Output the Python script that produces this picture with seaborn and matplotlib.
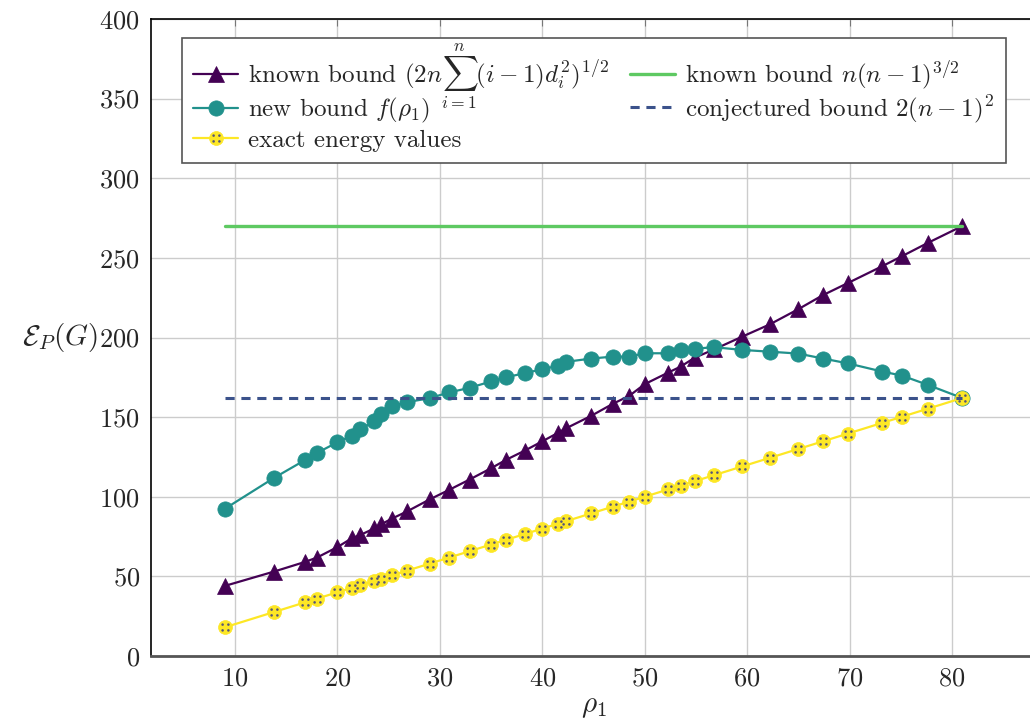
import numpy as np
import pandas as pd
import seaborn as sns
import matplotlib.pyplot as plt
from matplotlib.path import Path
from matplotlib.transforms import Bbox

# spectral radius rho_1 of the graphs (n = 10)
rho1 = [9, 13.8, 16.8, 18, 20, 21.4, 22.2, 23.6, 24.3, 25.3, 26.8, 29, 30.9, 32.9,
        35, 36.5, 38.3, 40, 41.5, 42.3, 44.8, 46.9, 48.5, 50, 52.3, 53.5, 54.9,
        56.8, 59.5, 62.2, 65, 67.4, 69.8, 73.2, 75.1, 77.7, 81]

known_sum_bound = [44, 53, 59, 61.8, 68.4, 73.9, 75.9, 80.1, 82.8, 86.2, 90.8, 98.3,
                   104.3, 110.8, 117.9, 123.3, 129, 134.8, 140, 142.9, 150.9, 158.4,
                   163.4, 170.7, 178, 181.7, 187.4, 192.6, 200.5, 208.2, 217.8, 226.6,
                   234.1, 244.8, 251, 259.6, 270]

new_bound = [92.4, 111.8, 122.9, 127.5, 134.2, 138.3, 142.5, 147.3, 151.9, 156.7,
             159.4, 161.9, 165.5, 168.4, 172.4, 175.1, 177.6, 180.1, 182.2, 184.7,
             186.8, 188.0, 188.0, 190.1, 190.1, 192.4, 193.0, 193.9, 192.2, 191.1,
             189.9, 186.8, 183.8, 178.6, 176.1, 170.1, 162]

exact_energy = [18, 27.6, 33.6, 36, 40, 42.8, 44.4, 47.2, 48.6, 50.6, 53.6, 58, 61.8,
                65.8, 70, 73, 76.6, 80, 83, 84.6, 89.6, 93.8, 97, 100, 104.6, 107,
                109.8, 113.6, 119, 124.4, 130, 134.8, 139.6, 146.4, 150.2, 155.4, 162]

const_x = [9, 81]
n_bound = [270, 270]
conj_bound = [162, 162]

sns.set_style("whitegrid")
plt.rcParams['font.family'] = ['cmr10']
plt.rcParams['mathtext.fontset'] = 'cm'
plt.rcParams['axes.formatter.use_mathtext'] = True
plt.rcParams['font.size'] = 18

purple = '#440154'
teal = '#21918c'
yellow = '#fde725'
green = '#5ec962'
blue = '#3b528b'

fig = plt.figure(figsize=(10.3, 7.2), dpi=100)
ax = fig.add_axes([151 / 1030, 64 / 720, 885 / 1030, 637 / 720])

sns.lineplot(x=rho1, y=known_sum_bound, ax=ax, color=purple, linewidth=1.6,
             marker='^', markersize=11, markeredgecolor=purple, markeredgewidth=0.5,
             legend=False)
sns.lineplot(x=rho1, y=new_bound, ax=ax, color=teal, linewidth=1.6,
             marker='o', markersize=11, markeredgecolor=teal, markeredgewidth=0.5,
             legend=False)
sns.lineplot(x=rho1, y=exact_energy, ax=ax, color=yellow, linewidth=1.6,
             marker='o', markersize=10, markeredgecolor=yellow, markeredgewidth=0.5,
             legend=False)

# four little dots inside the yellow marks
dots = Path.make_compound_path(*[Path.circle((dx, dy), 0.22)
                                 for dx, dy in [(-0.5, -0.5), (0.5, -0.5), (-0.5, 0.5), (0.5, 0.5)]])
ax.plot(rho1, exact_energy, linestyle='', marker=dots, markersize=6,
        color='#55557a', markeredgewidth=0)

sns.lineplot(x=const_x, y=n_bound, ax=ax, color=green, linewidth=2.4, legend=False)
sns.lineplot(x=const_x, y=conj_bound, ax=ax, color=blue, linewidth=2.2,
             linestyle=(0, (3, 2.2)), legend=False)

lines = ax.get_lines()
h_tri, h_new, h_exact, h_dots, h_green, h_conj = lines[:6]
handles = [h_tri, h_new, (h_exact, h_dots), h_green, h_conj]
labels = [r'known bound $(2n\sum_{i=1}^{n}(i-1)d_i^2)^{1/2}$',
          r'new bound $f(\rho_1)$',
          'exact energy values',
          r'known bound $n(n-1)^{3/2}$',
          r'conjectured bound $2(n-1)^2$']
leg = ax.legend(handles, labels, ncol=2, loc='upper left', bbox_to_anchor=(0.035, 0.97),
                frameon=True, fancybox=False, edgecolor='#555555', framealpha=1,
                borderaxespad=0, handlelength=1.8, handletextpad=0.4,
                columnspacing=0.85, labelspacing=0.17, borderpad=0.45, fontsize=18)
leg.get_frame().set_linewidth(1.2)

# let the limits of the sum hang over the neighbouring rows, as in the original
col1, col2 = leg._legend_handle_box.get_children()
sum_box = col1.get_children()[0].get_children()[1]
plain_box = col1.get_children()[1].get_children()[1]


def compact_bbox(renderer, orig=sum_box.get_bbox, ref=plain_box.get_bbox):
    bb = orig(renderer)
    rb = ref(renderer)
    return Bbox.from_bounds(bb.x0, rb.y0, bb.width, rb.height + 13)


sum_box.get_bbox = compact_bbox

ax.set_xlim(1.8, 88.2)
ax.set_ylim(0, 400)
ax.set_xticks(range(10, 81, 10))
ax.set_yticks(range(0, 401, 50))
ax.grid(True, color='#cccccc', linewidth=1)
ax.tick_params(direction='in', length=5, color='#777777', top=True, labelsize=19, pad=8)

ax.set_xlabel(r'$\rho_1$', fontsize=21, va='center')
ax.xaxis.set_label_coords(0.5, -0.08)
ax.set_ylabel(r'$\mathcal{E}_P(G)$', fontsize=21, rotation=0, ha='center', va='center')
ax.yaxis.set_label_coords(-0.103, 0.5)

for side in ['top', 'left']:
    ax.spines[side].set_color('black')
    ax.spines[side].set_linewidth(1.2)
ax.spines['bottom'].set_color('#555555')
ax.spines['bottom'].set_linewidth(2)
ax.spines['right'].set_visible(False)

# line the second legend column up with the rows of the first one
fig.canvas.draw()
texts = leg.get_texts()
gap = texts[4].get_window_extent().y0 - texts[1].get_window_extent().y0
col2.sep += gap * 72 / fig.dpi

fig.savefig('out.png', dpi=100)
